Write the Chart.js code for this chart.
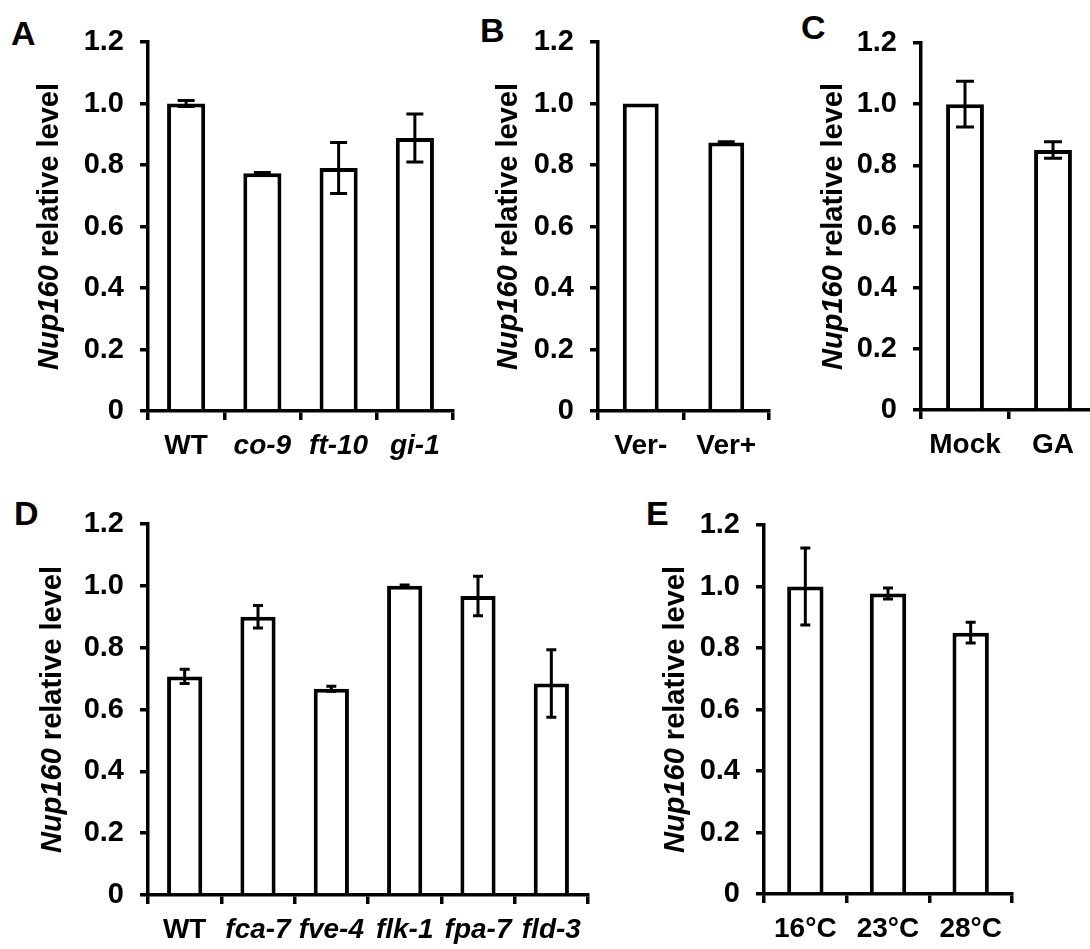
<!DOCTYPE html>
<html>
<head>
<meta charset="utf-8">
<script src="https://cdn.jsdelivr.net/npm/chart.js@4"></script>
<style>
  body { margin: 0; background: #fff; width: 1090px; height: 949px; overflow: hidden; position: relative; }
  canvas { position: absolute; }
  .lbl { position: absolute; font: bold 34px "Liberation Sans", Arial, sans-serif; line-height: 1; color: #000; }
</style>
</head>
<body>
<div class="lbl" style="left:11px;top:16px">A</div>
<div class="lbl" style="left:480px;top:13px">B</div>
<div class="lbl" style="left:801px;top:10px">C</div>
<div class="lbl" style="left:14px;top:496px">D</div>
<div class="lbl" style="left:646px;top:496px">E</div>

<canvas id="chartA" width="470" height="470" style="left:0;top:0"></canvas>
<canvas id="chartB" width="320" height="470" style="left:470px;top:0"></canvas>
<canvas id="chartC" width="320" height="470" style="left:790px;top:0"></canvas>
<canvas id="chartD" width="610" height="479" style="left:0;top:470px"></canvas>
<canvas id="chartE" width="470" height="479" style="left:620px;top:470px"></canvas>

<script>
// ---- data ----
const catsA = ["WT", "co-9", "ft-10", "gi-1"];
const valsA = [1.0, 0.773, 0.79, 0.888];
const errA = [0.01, 0.003, 0.083, 0.078];

const catsB = ["Ver-", "Ver+"];
const valsB = [1.0, 0.873];
const errB = [0, 0.003];

const catsC = ["Mock", "GA"];
const valsC = [1.0, 0.85];
const errC = [0.075, 0.027];

const catsD = ["WT", "fca-7", "fve-4", "flk-1", "fpa-7", "fld-3"];
const valsD = [0.707, 0.9, 0.667, 1.0, 0.967, 0.684];
const errD = [0.023, 0.036, 0.008, 0.003, 0.064, 0.109];

const catsE = ["16°C", "23°C", "28°C"];
const valsE = [1.0, 0.977, 0.85];
const errE = [0.125, 0.018, 0.034];

const yTicks = [0, 0.2, 0.4, 0.6, 0.8, 1.0, 1.2];

const FONT = '"Liberation Sans", Arial, sans-serif';

// error bars drawn through the y scale
const errorBars = {
  id: "errorBars",
  afterDatasetsDraw(chart, args, opts) {
    const ctx = chart.ctx;
    const y = chart.scales.y;
    const ds = chart.data.datasets[0];
    const meta = chart.getDatasetMeta(0);
    ctx.save();
    ctx.strokeStyle = "#000";
    ctx.lineWidth = 3;
    meta.data.forEach((bar, i) => {
      const e = ds.errors[i];
      if (!e) return;
      const v = ds.data[i];
      const y1 = y.getPixelForValue(v + e);
      const y2 = y.getPixelForValue(v - e);
      const h = opts.cap / 2;
      ctx.beginPath();
      ctx.moveTo(bar.x, y1); ctx.lineTo(bar.x, y2);
      ctx.moveTo(bar.x - h, y1); ctx.lineTo(bar.x + h, y1);
      ctx.moveTo(bar.x - h, y2); ctx.lineTo(bar.x + h, y2);
      ctx.stroke();
    });
    ctx.restore();
  }
};

// y title with italic gene name
const yTitle = {
  id: "yTitle",
  afterDraw(chart, args, opts) {
    const ctx = chart.ctx;
    const a = chart.chartArea;
    const size = 29;
    ctx.save();
    ctx.translate(a.left - opts.offset, (a.top + a.bottom) / 2);
    ctx.rotate(-Math.PI / 2);
    ctx.fillStyle = "#000";
    ctx.textBaseline = "middle";
    ctx.textAlign = "left";
    ctx.font = "italic bold " + size + "px " + FONT;
    const w1 = ctx.measureText("Nup160").width;
    ctx.font = "bold " + size + "px " + FONT;
    const w2 = ctx.measureText(" relative level").width;
    const x = -(w1 + w2) / 2;
    ctx.font = "italic bold " + size + "px " + FONT;
    ctx.fillText("Nup160", x, 0);
    ctx.font = "bold " + size + "px " + FONT;
    ctx.fillText(" relative level", x + w1, 0);
    ctx.restore();
  }
};

function makePanel(id, cats, vals, errs, o) {
  new Chart(document.getElementById(id), {
    type: "bar",
    data: {
      labels: cats,
      datasets: [{
        data: vals,
        errors: errs,
        backgroundColor: "#fff",
        borderColor: "#000",
        borderWidth: 4,
        barPercentage: o.bar,
        categoryPercentage: 1
      }]
    },
    options: {
      responsive: false,
      animation: false,
      layout: { padding: o.pad },
      plugins: {
        legend: { display: false },
        tooltip: { enabled: false },
        errorBars: { cap: o.cap },
        yTitle: { offset: o.titleOff }
      },
      scales: {
        x: {
          grid: { drawOnChartArea: false, tickLength: 9, lineWidth: 3.5, color: "#000" },
          border: { color: "#000", width: 3.5 },
          ticks: {
            color: "#000",
            padding: 9,
            maxRotation: 0,
            autoSkip: false,
            font: (c) => ({
              family: FONT, size: 28, weight: "bold",
              style: o.italic && cats[c.index] !== "WT" ? "italic" : "normal"
            })
          },
          afterFit: (s) => { s.height = 50; }
        },
        y: {
          min: 0,
          max: 1.2,
          grid: { drawOnChartArea: false, tickLength: 8, lineWidth: 3.5, color: "#000" },
          border: { color: "#000", width: 3.5 },
          ticks: {
            color: "#000",
            padding: 16,
            font: { family: FONT, size: 29, weight: "bold" },
            callback: (v) => (v === 0 ? "0" : Number(v).toFixed(1))
          },
          afterBuildTicks: (s) => { s.ticks = yTicks.map(v => ({ value: v })); },
          afterFit: (s) => { s.width = o.yw; }
        }
      }
    },
    plugins: [errorBars, yTitle]
  });
}

makePanel("chartA", catsA, valsA, errA, { yw: 148, pad: { top: 42, right: 17, bottom: 9, left: 0 }, bar: 0.5, cap: 17, titleOff: 98, italic: true });
makePanel("chartB", catsB, valsB, errB, { yw: 128, pad: { top: 42, right: 21, bottom: 9, left: 0 }, bar: 0.42, cap: 17, titleOff: 89, italic: false });
makePanel("chartC", catsC, valsC, errC, { yw: 131, pad: { top: 43, right: 13, bottom: 10, left: 0 }, bar: 0.43, cap: 18, titleOff: 87, italic: false });
makePanel("chartD", catsD, valsD, errD, { yw: 148, pad: { top: 54, right: 22, bottom: 4, left: 0 }, bar: 0.48, cap: 10, titleOff: 95, italic: true });
makePanel("chartE", catsE, valsE, errE, { yw: 144, pad: { top: 55, right: 78, bottom: 5, left: 0 }, bar: 0.44, cap: 10, titleOff: 88, italic: false });
</script>
</body>
</html>
